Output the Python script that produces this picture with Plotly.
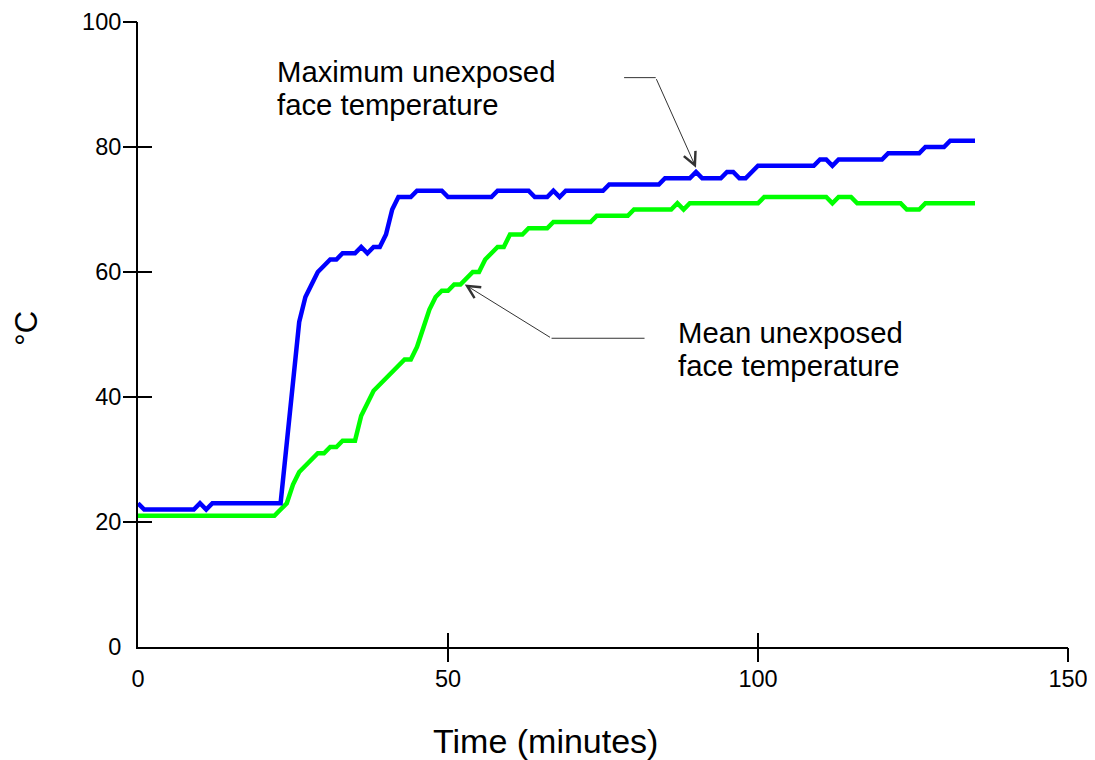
import plotly.graph_objects as go

# ---- data ----
max_time = list(range(0, 24)) + list(range(26, 136))
max_temp = [23, 22, 22, 22, 22, 22, 22, 22, 22, 22, 23, 22, 23, 23, 23, 23, 23, 23, 23, 23,
            23, 23, 23, 23,
            52, 56, 58, 60, 61, 62, 62, 63, 63, 63, 64, 63, 64, 64, 66, 70, 72, 72, 72, 73,
            73, 73, 73, 73, 72, 72, 72, 72, 72, 72, 72, 72, 73, 73, 73, 73, 73, 73, 72, 72,
            72, 73, 72, 73, 73, 73, 73, 73, 73, 73, 74, 74, 74, 74, 74, 74, 74, 74, 74, 75,
            75, 75, 75, 75, 76, 75, 75, 75, 75, 76, 76, 75, 75, 76, 77, 77, 77, 77, 77, 77,
            77, 77, 77, 77, 78, 78, 77, 78, 78, 78, 78, 78, 78, 78, 78, 79, 79, 79, 79, 79,
            79, 80, 80, 80, 80, 81, 81, 81, 81, 81]

mean_time = list(range(0, 136))
mean_temp = [21, 21, 21, 21, 21, 21, 21, 21, 21, 21, 21, 21, 21, 21, 21, 21, 21, 21, 21, 21,
             21, 21, 21, 22, 23, 26, 28, 29, 30, 31, 31, 32, 32, 33, 33, 33, 37, 39, 41, 42,
             43, 44, 45, 46, 46, 48, 51, 54, 56, 57, 57, 58, 58, 59, 60, 60, 62, 63, 64, 64,
             66, 66, 66, 67, 67, 67, 67, 68, 68, 68, 68, 68, 68, 68, 69, 69, 69, 69, 69, 69,
             70, 70, 70, 70, 70, 70, 70, 71, 70, 71, 71, 71, 71, 71, 71, 71, 71, 71, 71, 71,
             71, 72, 72, 72, 72, 72, 72, 72, 72, 72, 72, 72, 71, 72, 72, 72, 71, 71, 71, 71,
             71, 71, 71, 71, 70, 70, 70, 71, 71, 71, 71, 71, 71, 71, 71, 71]

x_ticks = [0, 50, 100, 150]
y_ticks = [0, 20, 40, 60, 80, 100]

FONT = "Arial, 'Liberation Sans', sans-serif"

fig = go.Figure()
fig.add_trace(go.Scatter(x=mean_time, y=mean_temp, mode="lines",
                         line=dict(color="#00FF00", width=4.5), hoverinfo="skip"))
fig.add_trace(go.Scatter(x=max_time, y=max_temp, mode="lines",
                         line=dict(color="#0000FF", width=4.5), hoverinfo="skip"))
# empty traces to host the tick-only overlay axes
for xa, ya in [("x2", "y"), ("x3", "y"), ("x", "y2"), ("x", "y3")]:
    fig.add_trace(go.Scatter(x=[], y=[], xaxis=xa, yaxis=ya, showlegend=False, hoverinfo="skip"))

common = dict(showgrid=False, zeroline=False, fixedrange=True, automargin=False)
tick_only = dict(showline=False, showticklabels=False, ticklen=14, tickwidth=1.5,
                 tickcolor="black", **common)

fig.update_layout(
    width=1087, height=752,
    margin=dict(l=130, r=27, t=14, b=113, autoexpand=False),
    paper_bgcolor="white", plot_bgcolor="white",
    showlegend=False,
    font=dict(family=FONT, color="black"),
    xaxis=dict(range=[0, 150], tickvals=x_ticks, ticks="outside", ticklen=10,
               tickcolor="rgba(0,0,0,0)", showline=True, linecolor="black", linewidth=2,
               tickfont=dict(size=23.5, family=FONT), **common),
    yaxis=dict(range=[0, 100], tickvals=y_ticks, ticks="outside", ticklen=10,
               tickcolor="rgba(0,0,0,0)", showline=True, linecolor="black", linewidth=2,
               tickfont=dict(size=23.5, family=FONT), **common),
    xaxis2=dict(overlaying="x", anchor="y", range=[0, 150], tickvals=x_ticks[1:],
                ticks="outside", **tick_only),
    xaxis3=dict(overlaying="x", anchor="y", range=[0, 150], tickvals=x_ticks[1:],
                ticks="inside", **tick_only),
    yaxis2=dict(overlaying="y", anchor="x", range=[0, 100], tickvals=y_ticks[1:],
                ticks="outside", **tick_only),
    yaxis3=dict(overlaying="y", anchor="x", range=[0, 100], tickvals=y_ticks[1:],
                ticks="inside", **tick_only),
)

# axis titles
fig.add_annotation(text="Time (minutes)", xref="paper", yref="paper", x=0.438, y=-0.15,
                   xanchor="center", yanchor="middle", showarrow=False,
                   font=dict(size=34, family=FONT))
fig.add_annotation(text="°C", xref="paper", yref="paper", x=-0.12, y=0.51,
                   xanchor="center", yanchor="middle", showarrow=False, textangle=-90,
                   font=dict(size=31, family=FONT))

# callout labels
lab_font = dict(size=29.3, family=FONT)
for txt, xx, yy in [("Maximum unexposed", 22.05, 92.1), ("face temperature", 22.05, 86.8),
                    ("Mean unexposed", 86.7, 50.4), ("face temperature", 86.7, 45.1)]:
    fig.add_annotation(text=txt, x=xx, y=yy, xanchor="left", yanchor="middle",
                       showarrow=False, font=lab_font)

# leader lines with arrows
arrow_col = "#333333"
fig.add_shape(type="line", x0=78.4, y0=91.1, x1=83.5, y1=91.1,
              line=dict(color=arrow_col, width=1))
fig.add_annotation(x=90, y=76.7, ax=83.5, ay=91.1, axref="x", ayref="y", text="",
                   showarrow=True, arrowhead=5, arrowsize=2.5, arrowwidth=1,
                   arrowcolor=arrow_col, standoff=0)
fig.add_shape(type="line", x0=66.7, y0=49.4, x1=81.7, y1=49.4,
              line=dict(color=arrow_col, width=1))
fig.add_annotation(x=52.7, y=58.0, ax=66.7, ay=49.4, axref="x", ayref="y", text="",
                   showarrow=True, arrowhead=5, arrowsize=2.5, arrowwidth=1,
                   arrowcolor=arrow_col, standoff=0)

fig.write_html("out.html")
